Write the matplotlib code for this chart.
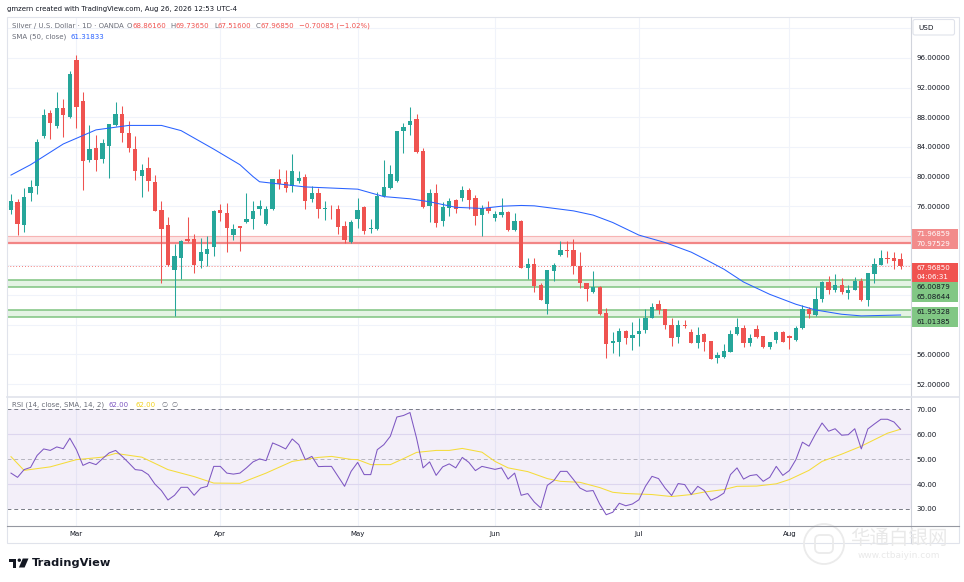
import numpy as np
import pandas as pd
import matplotlib
matplotlib.use("Agg")
import matplotlib.pyplot as plt
from matplotlib.patches import Rectangle, FancyBboxPatch, Circle, Polygon

plt.rcParams['font.family'] = ['DejaVu Sans', 'Noto Sans CJK SC']

W, H = 964, 582

# daily bars (weekdays, no bar on Good Friday)
dates = pd.bdate_range("2026-02-16", "2026-08-26")
dates = dates[dates != pd.Timestamp("2026-04-03")]

opens = [75.46, 76.63, 73.46, 77.74, 78.68, 85.46, 88.54, 86.85, 89.30, 88.05,
         95.78, 90.15, 82.25, 83.90, 82.38, 84.17, 86.94, 88.41, 85.82, 83.68,
         80.02, 81.13, 79.26, 75.51, 73.41, 67.43, 68.99, 71.63, 71.58, 68.63,
         69.57, 70.46, 75.55, 75.11, 72.12, 73.28, 73.86, 74.22, 75.56, 73.64,
         75.56, 79.64, 79.20, 78.76, 79.42, 79.91, 76.98, 77.78, 75.64, 75.69,
         75.64, 73.29, 71.20, 74.22, 75.91, 72.89, 72.89, 77.33, 78.49, 79.38,
         86.18, 86.89, 87.78, 83.51, 76.00, 77.78, 73.96, 75.78, 76.84, 77.11,
         78.13, 77.11, 74.76, 75.78, 74.44, 74.84, 75.20, 72.80, 73.97, 67.71,
         68.16, 65.32, 62.85, 67.26, 69.42, 70.05, 70.05, 67.94, 65.59, 64.47,
         65.14, 61.63, 57.49, 57.67, 59.11, 58.25, 58.75, 59.29, 60.95, 62.85,
         62.08, 59.92, 58.34, 59.96, 59.02, 57.58, 58.70, 57.79, 55.55, 55.59,
         56.36, 58.73, 59.54, 57.56, 59.41, 58.55, 57.03, 58.00, 59.05, 58.55,
         57.97, 59.50, 62.10, 61.33, 63.53, 65.77, 64.65, 65.32, 64.34, 64.70,
         65.86, 63.31, 66.80, 68.06, 68.96, 68.96, 68.8616]
highs = [77.70, 77.03, 78.50, 79.57, 85.06, 89.08, 88.99, 91.40, 90.42, 94.20,
         96.45, 91.40, 86.94, 85.60, 85.06, 87.07, 90.06, 89.53, 87.43, 85.50,
         81.70, 82.60, 80.24, 76.71, 74.57, 70.87, 71.45, 74.57, 72.25, 71.76,
         71.94, 75.46, 76.27, 76.49, 73.63, 73.28, 77.83, 76.71, 76.84, 76.00,
         79.73, 81.07, 80.89, 83.07, 80.71, 80.31, 78.76, 78.44, 76.67, 76.18,
         76.18, 73.96, 74.09, 77.11, 76.09, 74.31, 77.87, 82.18, 81.51, 86.20,
         87.29, 89.42, 88.44, 83.87, 78.31, 78.93, 76.53, 77.16, 76.93, 78.76,
         78.40, 77.51, 76.22, 76.71, 75.29, 77.16, 75.42, 75.11, 74.11, 69.06,
         69.06, 65.68, 67.35, 68.39, 71.27, 71.32, 71.54, 69.83, 65.68, 67.26,
         65.20, 62.31, 59.02, 59.51, 59.24, 60.41, 60.95, 62.08, 62.89, 63.30,
         62.08, 60.95, 60.64, 60.64, 59.47, 59.65, 58.93, 57.79, 56.27, 57.39,
         59.27, 60.93, 59.99, 58.73, 59.99, 58.55, 57.74, 59.18, 59.14, 58.64,
         59.77, 62.63, 62.46, 65.10, 65.91, 66.58, 66.80, 66.26, 65.32, 66.49,
         66.35, 67.03, 68.96, 70.03, 69.94, 69.85, 69.7365]
lows = [74.90, 72.12, 72.47, 76.67, 77.61, 85.24, 85.06, 86.60, 85.38, 87.90,
        86.54, 78.14, 82.03, 80.69, 81.85, 79.80, 86.76, 84.62, 83.28, 79.50,
        77.20, 78.05, 75.40, 65.64, 67.87, 61.18, 66.22, 71.14, 66.98, 67.65,
        67.87, 69.30, 73.99, 69.84, 71.45, 69.97, 73.68, 72.98, 74.84, 73.42,
        75.47, 78.31, 77.87, 77.87, 79.11, 75.56, 76.62, 74.40, 74.18, 74.31,
        72.22, 70.98, 71.10, 73.11, 72.31, 72.44, 72.80, 77.20, 78.31, 79.20,
        83.20, 85.64, 83.20, 75.73, 73.87, 73.20, 73.29, 74.62, 75.11, 76.76,
        75.64, 73.51, 71.96, 75.11, 74.00, 74.53, 72.67, 72.67, 67.62, 66.14,
        64.42, 63.34, 61.41, 65.91, 69.29, 69.20, 66.81, 65.00, 63.20, 64.33,
        61.35, 55.55, 56.14, 55.78, 57.35, 56.59, 57.13, 58.93, 60.86, 61.41,
        59.38, 57.13, 57.58, 59.51, 57.49, 56.81, 56.45, 55.37, 54.83, 55.50,
        56.27, 58.64, 57.03, 57.16, 58.19, 56.85, 56.76, 57.52, 57.61, 56.67,
        57.83, 59.41, 60.97, 61.20, 63.08, 64.20, 64.43, 64.11, 63.53, 64.70,
        63.22, 62.54, 65.60, 68.06, 68.37, 67.48, 67.516]
closes = [76.71, 73.59, 77.29, 78.63, 84.66, 88.28, 87.21, 89.30, 88.32, 93.90,
          89.39, 82.07, 83.68, 82.29, 84.53, 87.03, 88.41, 85.82, 83.90, 80.69,
          80.87, 79.35, 75.42, 72.92, 68.10, 69.26, 71.36, 71.36, 68.10, 69.88,
          70.20, 75.29, 75.15, 73.05, 72.96, 73.01, 74.21, 75.38, 76.00, 75.64,
          79.64, 78.98, 78.49, 80.80, 79.78, 76.76, 77.73, 75.56, 75.82, 75.56,
          73.20, 71.42, 73.87, 75.51, 72.62, 73.02, 77.38, 78.58, 80.40, 86.18,
          86.62, 87.51, 83.38, 75.91, 77.78, 73.73, 75.96, 76.71, 75.56, 78.18,
          76.89, 74.62, 75.73, 75.29, 74.93, 75.24, 72.80, 74.04, 67.71, 68.16,
          65.23, 63.34, 67.35, 68.03, 70.05, 69.92, 67.94, 65.68, 64.87, 65.14,
          61.41, 57.35, 57.85, 59.11, 58.25, 58.57, 59.11, 60.95, 62.35, 61.99,
          59.92, 58.25, 59.92, 59.78, 57.58, 58.66, 57.67, 55.37, 55.90, 56.40,
          58.78, 59.68, 57.52, 58.19, 58.33, 57.03, 57.70, 58.96, 57.61, 58.15,
          59.50, 62.10, 61.42, 63.53, 65.77, 64.65, 65.32, 64.43, 64.70, 65.86,
          63.31, 67.03, 68.15, 68.96, 68.82, 68.66935, 67.9685]

# SMA(50) at selected bars
sma_bar = [0, 3, 8, 13, 18, 23, 26, 31, 35, 37, 38, 40, 45, 53, 57, 61, 64, 68,
           72, 75, 78, 80, 86, 89, 92, 96, 100, 104, 106, 109, 112, 116, 120,
           123, 127, 130, 136]
sma_val = [80.2, 81.6, 84.4, 86.3, 86.9, 86.9, 86.2, 83.7, 81.6, 80.0, 79.3,
           79.1, 78.6, 78.3, 77.3, 77.0, 76.6, 75.85, 75.7, 76.0, 76.1, 76.05,
           75.37, 74.8, 73.8, 72.1, 71.1, 69.8, 68.9, 67.5, 65.77, 64.11, 62.77,
           62.0, 61.42, 61.2, 61.31833]

rsi = [44.4, 42.7, 45.8, 46.7, 51.5, 54.1, 53.5, 54.9, 54.2, 58.4,
       53.8, 47.5, 48.7, 47.8, 50.2, 52.5, 53.5, 51.1, 48.5, 45.8,
       45.5, 43.8, 40.0, 37.4, 33.6, 35.5, 38.7, 38.7, 35.5, 38.4,
       39.1, 47.1, 47.1, 44.4, 44.0, 44.4, 46.5, 48.9, 50.1, 49.4,
       56.5, 55.4, 54.1, 58.1, 55.8, 49.8, 51.1, 47.0, 47.1, 47.1,
       43.1, 39.1, 45.1, 48.7, 43.8, 43.8, 53.8, 55.8, 59.2, 66.9,
       67.5, 68.7, 58.5, 46.5, 48.9, 43.5, 46.9, 48.1, 46.5, 50.7,
       48.7, 45.4, 47.1, 46.5, 45.9, 46.5, 42.0, 44.4, 35.5, 36.2,
       32.8, 30.4, 39.5, 41.4, 45.1, 45.1, 41.8, 38.4, 37.1, 37.4,
       32.0, 27.7, 28.7, 32.3, 31.3, 32.0, 33.7, 39.1, 43.1, 42.2,
       38.4, 35.4, 40.2, 39.8, 35.8, 39.1, 37.4, 33.5, 34.7, 36.4,
       43.8, 46.5, 42.0, 43.4, 43.8, 41.1, 42.7, 47.1, 43.5, 45.4,
       49.8, 56.8, 55.2, 60.1, 64.5, 61.2, 62.2, 59.6, 59.8, 62.2,
       54.1, 62.1, 64.1, 66.0, 66.0, 64.9, 62.0]

rsi_ma_bar = [0, 2, 6, 10, 14, 16, 20, 24, 28, 31, 35, 39, 43, 47, 49, 52, 53,
              55, 58, 60, 62, 65, 67, 69, 72, 74, 76, 79, 82, 84, 87, 90, 92,
              94, 98, 101, 104, 106, 109, 111, 114, 117, 119, 122, 124, 127,
              130, 132, 134, 136]
rsi_ma_val = [51.0, 45.5, 46.9, 49.8, 50.8, 52.3, 50.8, 45.8, 43.0, 40.4, 40.3,
              44.4, 49.1, 50.7, 51.1, 49.9, 49.8, 47.8, 47.8, 50.2, 52.7, 53.5,
              53.5, 54.3, 52.8, 49.1, 46.5, 45.0, 42.2, 41.1, 40.7, 38.6, 36.7,
              36.2, 35.8, 35.0, 35.8, 36.8, 37.8, 39.1, 39.2, 40.1, 41.8, 45.5,
              49.1, 52.0, 55.2, 57.8, 60.4, 62.0]

res_zone = (70.97529, 71.96859)
sup_zones = [(65.08644, 66.00879), (61.01385, 61.95328)]
countdown = "04:06:31"
price_ticks = list(range(52, 101, 4))
hidden_ticks = [60, 64, 68, 72, 100]   # covered by the level labels / USD box
rsi_ticks = [30, 40, 50, 60, 70]

UP, DOWN = "#26a69a", "#ef5350"
GRID = "#f0f3fa"
TXT = "#131722"
GRAY = "#6a6d78"
PURPLE = "#7e57c2"
YELLOW = "#f5dc3a"
BLUE = "#2962ff"

fig = plt.figure(figsize=(W / 100, H / 100), dpi=100)
fig.patch.set_facecolor("white")


def frac(x0, y0, x1, y1):
    return [x0 / W, 1 - y1 / H, (x1 - x0) / W, (y1 - y0) / H]


ax = fig.add_axes(frac(7, 17, 911, 396))
ax2 = fig.add_axes(frac(7, 397, 911, 526), sharex=ax)

x = np.arange(len(dates))
o, hi, lo, c = map(np.array, (opens, highs, lows, closes))
cols = np.where(c >= o, UP, DOWN)

# main pane
ax.vlines(x, lo, hi, colors=cols, lw=0.75, zorder=4)
ax.bar(x, np.maximum(np.abs(c - o), 0.07), bottom=np.minimum(o, c), width=0.66,
       color=cols, lw=0, zorder=5)
ax.plot(sma_bar, sma_val, color=BLUE, lw=0.75, zorder=6)

ax.axhspan(*res_zone, color="#fde3e3", lw=0, zorder=1)
ax.axhline(res_zone[1], color="#f7b4b4", lw=0.8, zorder=2)
ax.axhline(res_zone[0], color="#f28585", lw=1.6, zorder=2)
for z in sup_zones:
    ax.axhspan(*z, color="#e4f3e4", lw=0, zorder=1)
    for v in z:
        ax.axhline(v, color="#7fc480", lw=1.1, zorder=2)
ax.axhline(c[-1], color=DOWN, lw=0.6, ls=(0, (1, 2.5)), zorder=2)

ax.set_xlim(-0.61, 137.6)
ax.set_ylim(50.39, 101.53)
ax.set_yticks(price_ticks, ["" if t in hidden_ticks else f"{t:.5f}" for t in price_ticks])
ax.yaxis.tick_right()
ax.tick_params(axis="y", length=0, pad=4.1, labelsize=5.1, labelcolor=TXT)
ax.tick_params(axis="x", length=0, labelbottom=False)
ax.grid(color=GRID, lw=0.8)
ax.set_axisbelow(True)

# month ticks on the first bar of each month
month_idx = [i for i in range(1, len(dates)) if dates[i].month != dates[i - 1].month]
ax2.set_xticks(month_idx, [dates[i].strftime("%b") for i in month_idx])

# RSI pane
ax2.axhspan(30, 70, color=PURPLE, alpha=0.09, lw=0, zorder=0.6)
for v in (40, 60):
    ax2.axhline(v, color="#ddd6ef", lw=0.8, zorder=0.8)
for v, a in ((70, 1.0), (50, 0.5), (30, 1.0)):
    ax2.axhline(v, color="#787b86", alpha=a, lw=0.7, ls=(0, (4, 3)), zorder=1)
ax2.plot(x, rsi, color=PURPLE, lw=0.75, zorder=3)
ax2.plot(rsi_ma_bar, rsi_ma_val, color=YELLOW, lw=0.75, zorder=2)
ax2.set_ylim(23.18, 74.93)
ax2.set_yticks(rsi_ticks, [f"{t:.2f}" for t in rsi_ticks])
ax2.yaxis.tick_right()
ax2.tick_params(axis="y", length=0, pad=4.1, labelsize=5.1, labelcolor=TXT)
ax2.tick_params(axis="x", length=0, pad=3.6, labelsize=5, labelcolor=TXT)
ax2.grid(axis="x", color=GRID, lw=0.8)
ax2.set_axisbelow(True)

for a in (ax, ax2):
    for s in a.spines.values():
        s.set_visible(False)

# overlay in pixel coordinates for frame, legends and labels
ov = fig.add_axes([0, 0, 1, 1], zorder=10)
ov.set_xlim(0, W)
ov.set_ylim(H, 0)
ov.axis("off")
ov.patch.set_visible(False)

ov.add_patch(Rectangle((6.5, 17), 952, 526, fill=False, ec="#e0e3eb", lw=0.8))
ov.plot([911, 911], [17, 543], color="#d1d4dc", lw=0.8)
ov.plot([6.5, 958.5], [396.5, 396.5], color="#e0e3eb", lw=1.2)
ov.plot([6.5, 958.5], [526, 526], color="#9598a1", lw=0.8)


def chain(x0, y0, parts, size=5):
    t = ov.text(x0, y0, parts[0][0], color=parts[0][1], fontsize=size,
                va="center", ha="left")
    for s, col, gap in parts[1:]:
        t = ov.annotate(s, xy=(1, 0.5), xycoords=t, xytext=(gap, 0),
                        textcoords="offset points", color=col, fontsize=size,
                        va="center", ha="left")
    return t


ov.text(7, 9.3, "gmzern created with TradingView.com, Aug 26, 2026 12:53 UTC-4",
        fontsize=5, color=TXT, va="center")
chg = c[-1] - c[-2]
pct = chg / c[-2] * 100
chain(11.7, 25.7, [("Silver / U.S. Dollar · 1D · OANDA", GRAY, 0),
                   ("O", GRAY, 2.6), (f"{o[-1]:.5f}", DOWN, 0),
                   ("H", GRAY, 3.2), (f"{hi[-1]:.5f}", DOWN, 0),
                   ("L", GRAY, 3.2), (f"{lo[-1]:.5f}", DOWN, 0),
                   ("C", GRAY, 3.2), (f"{c[-1]:.5f}", DOWN, 0),
                   (f"{chg:.5f} ({pct:.2f}%)".replace("-", "\u2212"), DOWN, 3.2)])
chain(11.7, 36.7, [("SMA (50, close)", GRAY, 0), (f"{sma_val[-1]:.5f}", BLUE, 3)])
chain(11.7, 404.7, [("RSI (14, close, SMA, 14, 2)", GRAY, 0),
                    (f"{rsi[-1]:.2f}", PURPLE, 3.5),
                    (f"{rsi_ma_val[-1]:.2f}", "#f2d11c", 5),
                    ("\u2205", GRAY, 4), ("\u2205", GRAY, 3)])

ov.add_patch(FancyBboxPatch((913, 19.5), 41.5, 15.5,
                            boxstyle="round,pad=0,rounding_size=2",
                            fc="white", ec="#e0e3eb", lw=0.8))
ov.text(918, 27.5, "USD", fontsize=5.2, color=TXT, va="center")

# price-axis labels for the levels
level_boxes = [
    (228.5, 249, "#f28b8b", "white",
     [(f"{res_zone[1]:.5f}", 233.8), (f"{res_zone[0]:.5f}", 243.8)]),
    (262.5, 282, "#f05350", "white",
     [(f"{c[-1]:.5f}", 267.7), (countdown, 277.2)]),
    (282, 302, "#81c784", TXT,
     [(f"{sup_zones[0][1]:.5f}", 287), (f"{sup_zones[0][0]:.5f}", 297)]),
    (306.5, 327, "#81c784", TXT,
     [(f"{sup_zones[1][1]:.5f}", 311.5), (f"{sup_zones[1][0]:.5f}", 321.8)]),
]
for y0, y1, fc, tc, rows in level_boxes:
    ov.add_patch(Rectangle((911.5, y0), 46.5, y1 - y0, fc=fc, ec="none"))
    for s, yy in rows:
        ov.text(916.5, yy, s, fontsize=5.1, color=tc, va="center")

# watermark
ov.add_patch(Circle((824, 544), 20, fill=False, ec="#ebebeb", lw=1.3))
ov.add_patch(FancyBboxPatch((815, 535), 18, 18, boxstyle="round,pad=0,rounding_size=5",
                            fill=False, ec="#ebebeb", lw=1.3))
ov.text(899, 538, "华通白银网", fontsize=14, color="#e9e9e9", ha="center",
        va="center", family=["Noto Sans CJK SC", "DejaVu Sans"])
ov.text(899, 556, "www.ctbaiyin.com", fontsize=6.5, color="#e9e9e9",
        ha="center", va="center")

# TradingView logo
ov.add_patch(Rectangle((8.5, 558.5), 7.5, 3, fc=TXT, ec="none"))
ov.add_patch(Rectangle((13.2, 558.5), 2.8, 9, fc=TXT, ec="none"))
ov.add_patch(Circle((19.3, 560.2), 1.7, fc=TXT, ec="none"))
ov.add_patch(Polygon([(22.8, 558.5), (28.5, 558.5), (24.6, 567.5), (18.9, 567.5)],
                     fc=TXT, ec="none"))
ov.text(31.5, 563.3, "TradingView", fontsize=8.2, fontweight="bold", color=TXT,
        va="center")

fig.savefig("out.png", dpi=100, facecolor="white")
